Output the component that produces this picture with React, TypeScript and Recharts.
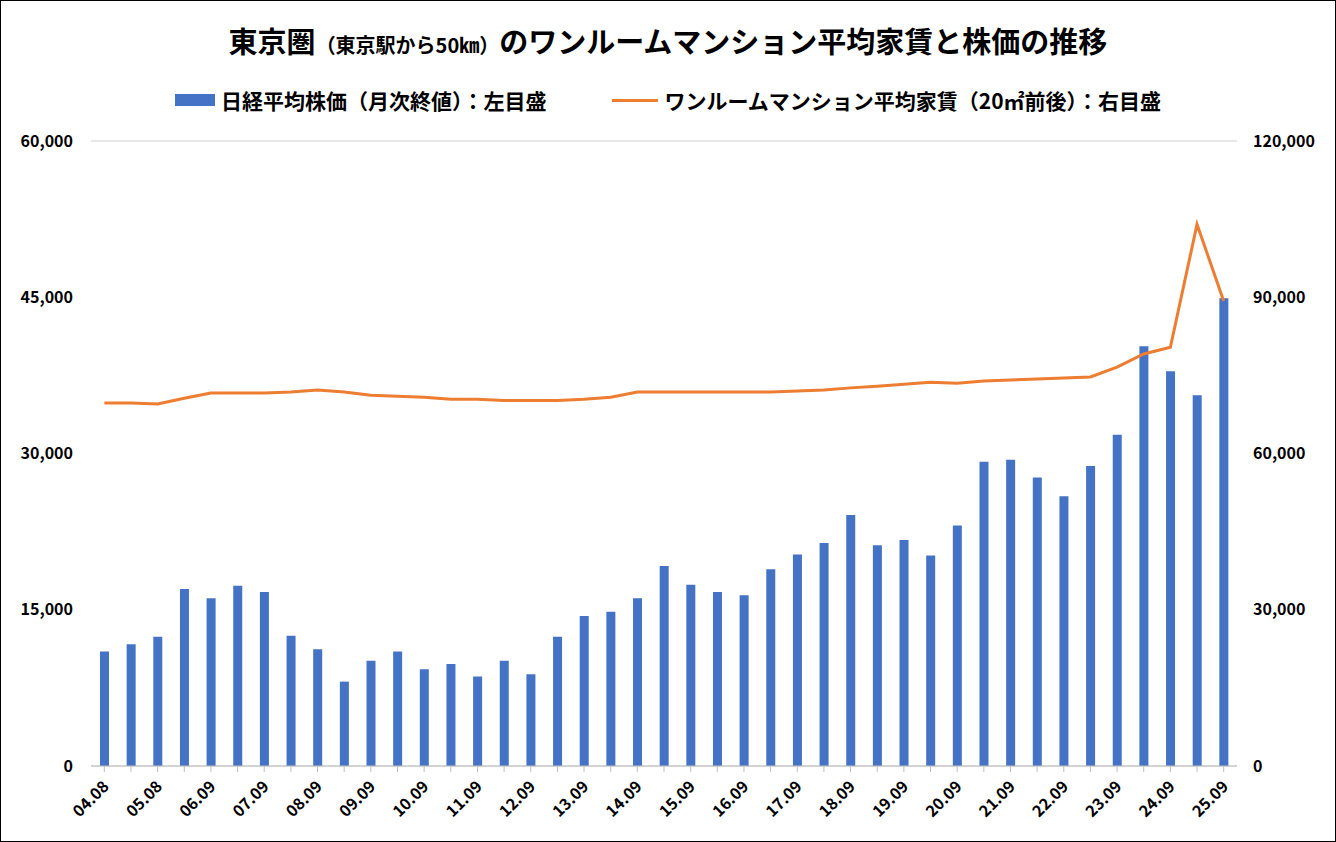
import { ComposedChart, Bar, Line, XAxis, YAxis, CartesianGrid } from 'recharts'

const periods = [
  '04.08', '05.02', '05.08', '06.03', '06.09', '07.03', '07.09', '08.03', '08.09', '09.03',
  '09.09', '10.03', '10.09', '11.03', '11.09', '12.03', '12.09', '13.03', '13.09', '14.03',
  '14.09', '15.03', '15.09', '16.03', '16.09', '17.03', '17.09', '18.03', '18.09', '19.03',
  '19.09', '20.03', '20.09', '21.03', '21.09', '22.03', '22.09', '23.03', '23.09', '24.03',
  '24.09', '25.03', '25.09',
]

const nikkei = [
  11000, 11700, 12400, 17000, 16100, 17300, 16700, 12500, 11200, 8100,
  10100, 11000, 9300, 9800, 8600, 10100, 8800, 12400, 14400, 14800,
  16100, 19200, 17400, 16700, 16400, 18900, 20300, 21400, 24100, 21200,
  21700, 20200, 23100, 29200, 29400, 27700, 25900, 28800, 31800, 40300,
  37900, 35600, 44900,
]

const rent = [
  69700, 69700, 69500, 70600, 71600, 71600, 71600, 71800, 72200, 71800,
  71200, 71000, 70800, 70400, 70400, 70200, 70200, 70200, 70400, 70800,
  71800, 71800, 71800, 71800, 71800, 71800, 72000, 72200, 72600, 72900,
  73300, 73700, 73500, 73900, 74100, 74300, 74500, 74700, 76600, 79100,
  80400, 104000, 89300,
]

const leftTicks = [0, 15000, 30000, 45000, 60000]
const rightTicks = [0, 30000, 60000, 90000, 120000]

const data = periods.map((p, i) => ({ p, nikkei: nikkei[i], rent: rent[i] }))

const font = '"Noto Sans CJK JP", "Noto Sans", sans-serif'
const fmt = (v: number) => v.toLocaleString('en-US')
const tick = { fontSize: 16, fill: '#000', fontWeight: 600, fontFamily: font }

export default function App() {
  return (
    <div
      style={{
        position: 'absolute', left: 0, top: 0, width: 1334, height: 840,
        border: '1px solid #000', background: '#fff', fontFamily: font,
      }}
    >
      <div style={{ position: 'absolute', top: 18, width: '100%', textAlign: 'center', fontSize: 29, fontWeight: 700 }}>
        東京圏<span style={{ fontSize: 20 }}>（東京駅から50㎞）</span>のワンルームマンション平均家賃と株価の推移
      </div>
      <div style={{ position: 'absolute', top: 84, width: '100%', display: 'flex', justifyContent: 'center', gap: 66, fontSize: 21, fontWeight: 700 }}>
        <span style={{ display: 'flex', alignItems: 'center' }}>
          <span style={{ width: 40, height: 12, background: '#4472C4', marginRight: 6 }} />
          日経平均株価（月次終値）：左目盛
        </span>
        <span style={{ display: 'flex', alignItems: 'center' }}>
          <span style={{ width: 46, height: 3, background: '#ED7D31', marginRight: 6 }} />
          ワンルームマンション平均家賃（20㎡前後）：右目盛
        </span>
      </div>
      <ComposedChart width={1334} height={840} data={data} margin={{ top: 140, right: 18, left: 10, bottom: 15 }}>
        <CartesianGrid vertical={false} stroke="#d0d0d0" />
        <XAxis
          dataKey="p"
          interval={0}
          height={60}
          tick={(props: any) => {
            const { x, y, payload, index } = props
            if (index % 2 !== 0) return <g />
            return (
              <text x={x} y={y + 8} textAnchor="end" transform={`rotate(-45 ${x} ${y + 8})`} {...tick} dy={8}>
                {payload.value}
              </text>
            )
          }}
          tickLine={{ stroke: '#bfbfbf' }}
          axisLine={{ stroke: '#bfbfbf' }}
        />
        <YAxis yAxisId="l" domain={[0, 60000]} ticks={leftTicks} tickFormatter={fmt} width={80} tick={{ ...tick, dx: -10 }} axisLine={false} tickLine={false} />
        <YAxis yAxisId="r" orientation="right" domain={[0, 120000]} ticks={rightTicks} tickFormatter={fmt} width={80} tick={{ ...tick, dx: 8 }} axisLine={false} tickLine={false} />
        <Bar yAxisId="l" dataKey="nikkei" fill="#4472C4" barSize={9} isAnimationActive={false} />
        <Line yAxisId="r" dataKey="rent" stroke="#ED7D31" strokeWidth={3} dot={false} type="linear" isAnimationActive={false} />
      </ComposedChart>
    </div>
  )
}
